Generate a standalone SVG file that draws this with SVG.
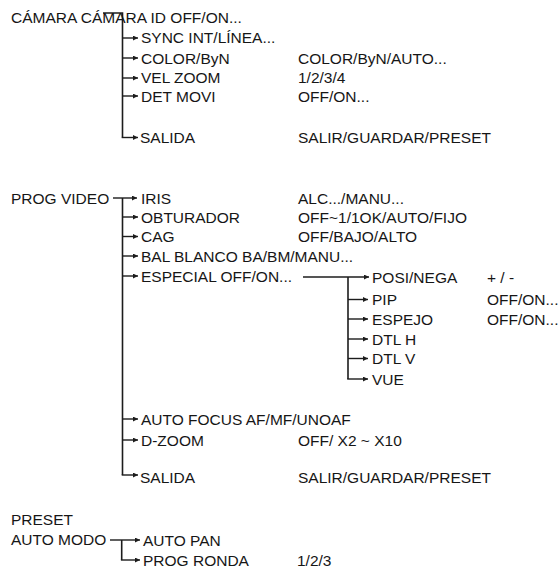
<svg xmlns="http://www.w3.org/2000/svg" width="559" height="571" viewBox="0 0 559 571">
<defs>
<style>
text{font-family:"Liberation Sans",Arial,Helvetica,sans-serif;font-size:15.5px;fill:#161616}
.ln{fill:none;stroke:#1c1c1c;stroke-width:1.6}
.ar{fill:none;stroke:#1c1c1c;stroke-width:1.4;marker-end:url(#ah)}
</style>
<marker id="ah" markerUnits="userSpaceOnUse" markerWidth="6" markerHeight="5" refX="5" refY="2.5" orient="auto">
<path d="M0,0 L5,2.5 L0,5 z" fill="#1c1c1c"/>
</marker>
</defs>
<rect width="559" height="571" fill="#fff"/>

<g id="connectors">
<!-- section 1 -->
<path class="ln" d="M103,13 H122.5 V137.5"/>
<path class="ar" d="M122.5,38 H138"/>
<path class="ar" d="M122.5,58 H138"/>
<path class="ar" d="M122.5,78 H138"/>
<path class="ar" d="M122.5,96 H138"/>
<path class="ar" d="M121.7,137.5 H138"/>
<!-- section 2 -->
<path class="ar" d="M113,198 H137"/>
<path class="ln" d="M122.5,198 V475"/>
<path class="ar" d="M122.5,217 H138"/>
<path class="ar" d="M122.5,236.5 H138"/>
<path class="ar" d="M122.5,256 H138"/>
<path class="ar" d="M122.5,276 H138"/>
<path class="ar" d="M122.5,419 H138"/>
<path class="ar" d="M122.5,440 H138"/>
<path class="ar" d="M121.7,475 H138"/>
<path class="ar" d="M303,277 H369"/>
<path class="ln" d="M348,277 V379"/>
<path class="ar" d="M348,299.5 H368"/>
<path class="ar" d="M348,319 H368"/>
<path class="ar" d="M348,339 H368"/>
<path class="ar" d="M348,358.5 H368"/>
<path class="ar" d="M347.2,379 H368"/>
<!-- section 3 -->
<path class="ar" d="M110,540 H140"/>
<path class="ln" d="M121.7,540 V560"/>
<path class="ar" d="M120.9,560 H140"/>
</g>

<g id="camara">
<text x="11" y="22.5">CÁMARA CÁMARA ID OFF/ON...</text>
</g>
<g id="sync"><text x="141" y="43">SYNC INT/LÍNEA...</text></g>
<g id="color"><text x="141" y="63.5">COLOR/ByN</text><text x="298" y="63.5">COLOR/ByN/AUTO...</text></g>
<g id="velzoom"><text x="141" y="83">VEL ZOOM</text><text x="298" y="83">1/2/3/4</text></g>
<g id="detmovi"><text x="141" y="101.5">DET MOVI</text><text x="298" y="101.5">OFF/ON...</text></g>
<g id="salida1"><text x="140" y="142.5">SALIDA</text><text x="298" y="142.5">SALIR/GUARDAR/PRESET</text></g>

<g id="progvideo"><text x="11" y="203.5">PROG VIDEO</text></g>
<g id="iris"><text x="141" y="203.5">IRIS</text><text x="298" y="203.5">ALC.../MANU...</text></g>
<g id="obturador"><text x="141" y="222.5">OBTURADOR</text><text x="298" y="222.5">OFF~1/1OK/AUTO/FIJO</text></g>
<g id="cag"><text x="141" y="242">CAG</text><text x="298" y="242">OFF/BAJO/ALTO</text></g>
<g id="balblanco"><text x="141" y="261.5">BAL BLANCO BA/BM/MANU...</text></g>
<g id="especial"><text x="141" y="281.5">ESPECIAL OFF/ON...</text></g>
<g id="posinega"><text x="372" y="282.5">POSI/NEGA</text><text x="487" y="282.5">+ / -</text></g>
<g id="pip"><text x="372" y="305">PIP</text><text x="487" y="305">OFF/ON...</text></g>
<g id="espejo"><text x="372" y="324.5">ESPEJO</text><text x="487" y="324.5">OFF/ON...</text></g>
<g id="dtlh"><text x="372" y="344.5">DTL H</text></g>
<g id="dtlv"><text x="372" y="364">DTL V</text></g>
<g id="vue"><text x="372" y="384.5">VUE</text></g>
<g id="autofocus"><text x="141" y="424.5">AUTO FOCUS AF/MF/UNOAF</text></g>
<g id="dzoom"><text x="141" y="446">D-ZOOM</text><text x="298" y="446">OFF/ X2 ~ X10</text></g>
<g id="salida2"><text x="140" y="483">SALIDA</text><text x="298" y="483">SALIR/GUARDAR/PRESET</text></g>

<g id="preset"><text x="11" y="525">PRESET</text><text x="11" y="545">AUTO MODO</text></g>
<g id="autopan"><text x="143" y="545.5">AUTO PAN</text></g>
<g id="progronda"><text x="143" y="566">PROG RONDA</text><text x="297" y="566">1/2/3</text></g>
</svg>
